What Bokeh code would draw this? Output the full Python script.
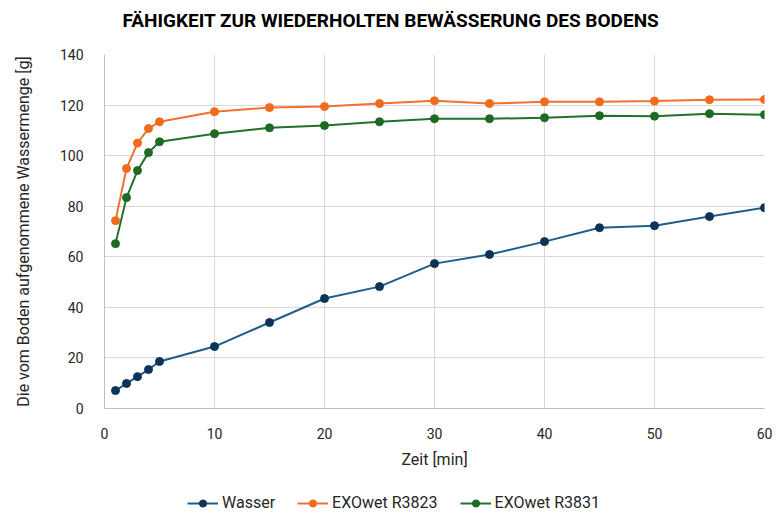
from bokeh.plotting import figure
from bokeh.models import Range1d, Legend, LegendItem, FixedTicker, Label
from bokeh.layouts import column
from bokeh.embed import file_html
from bokeh.resources import INLINE

zeit = [1, 2, 3, 4, 5, 10, 15, 20, 25, 30, 35, 40, 45, 50, 55, 60]
wasser = [7.1, 9.9, 12.6, 15.4, 18.6, 24.5, 34.0, 43.5, 48.2, 57.3, 60.9, 66.0, 71.5, 72.3, 75.9, 79.4]
r3823 = [74.3, 94.9, 105.0, 110.7, 113.4, 117.4, 119.0, 119.4, 120.6, 121.7, 120.6, 121.3, 121.3, 121.6, 122.1, 122.2]
r3831 = [65.2, 83.4, 94.1, 101.2, 105.5, 108.7, 111.0, 111.9, 113.4, 114.6, 114.6, 115.0, 115.8, 115.6, 116.6, 116.2]

x_ticks = [0, 10, 20, 30, 40, 50, 60]
y_ticks = [0, 20, 40, 60, 80, 100, 120, 140]

title_text = "FÄHIGKEIT ZUR WIEDERHOLTEN BEWÄSSERUNG DES BODENS"

series = [
    ("Wasser", wasser, "#1d5f8a", "#0c3458"),
    ("EXOwet R3823", r3823, "#f07130", "#f26a1b"),
    ("EXOwet R3831", r3831, "#22702a", "#1d6a25"),
]

FONT = "Roboto"
TXT = "#262626"

# title strip
pt = figure(width=776, height=40, output_backend="svg", toolbar_location=None,
            x_range=Range1d(0, 1), y_range=Range1d(0, 1),
            x_axis_type=None, y_axis_type=None, min_border=0)
pt.outline_line_color = None
pt.add_layout(Label(x=0, y=0.5, x_offset=18, text=title_text,
                    text_font=FONT, text_font_style="bold", text_font_size="19px",
                    text_color="#000000", text_align="left", text_baseline="middle"))

p = figure(width=776, height=440, output_backend="svg", toolbar_location=None,
           x_range=Range1d(0, 60), y_range=Range1d(0, 140),
           min_border_left=104, min_border_right=12, min_border_top=14, min_border_bottom=72)
p.outline_line_color = None
p.background_fill_color = "white"

p.xaxis.ticker = FixedTicker(ticks=x_ticks)
p.yaxis.ticker = FixedTicker(ticks=y_ticks)
p.xaxis.axis_label = "Zeit [min]"
p.yaxis.axis_label = "Die vom Boden aufgenommene Wassermenge [g]"
for ax in (p.xaxis, p.yaxis):
    ax.axis_line_color = "#bfbfbf"
    ax.major_tick_line_color = None
    ax.minor_tick_line_color = None
    ax.major_label_text_font = FONT
    ax.major_label_text_font_size = "14px"
    ax.major_label_text_color = TXT
    ax.axis_label_text_font = FONT
    ax.axis_label_text_font_size = "16px"
    ax.axis_label_text_font_style = "normal"
    ax.axis_label_text_color = TXT
p.xaxis.major_label_standoff = 13
p.yaxis.major_label_standoff = 15
p.xaxis.axis_label_standoff = 8
p.yaxis.axis_label_standoff = 24

p.xgrid.grid_line_color = "#d9d9d9"
p.ygrid.grid_line_color = "#d9d9d9"

for name, vals, lc, mc in series:
    p.line(zeit, vals, line_color=lc, line_width=2)
    p.scatter(zeit, vals, size=8, fill_color=mc, line_color=mc)

# legend strip below the chart; its renderers use the same data, kept outside
# the strip's visible range so only the legend samples show
pl = figure(width=776, height=37, output_backend="svg", toolbar_location=None,
            x_range=Range1d(0, 1), y_range=Range1d(-2, -1),
            x_axis_type=None, y_axis_type=None, min_border=0)
pl.outline_line_color = None
items = []
for name, vals, lc, mc in series:
    l = pl.line(zeit, vals, line_color=lc, line_width=2)
    s = pl.scatter(zeit, vals, size=8, fill_color=mc, line_color=mc)
    items.append(LegendItem(label=name, renderers=[l, s]))

legend = Legend(items=items, orientation="horizontal", location=(83, 5))
legend.label_text_font = FONT
legend.label_text_font_size = "16px"
legend.label_text_color = TXT
legend.glyph_width = 31
legend.glyph_height = 18
legend.label_height = 18
legend.label_standoff = 4
legend.spacing = 22
legend.padding = 0
legend.margin = 0
legend.border_line_color = None
legend.background_fill_alpha = 0
pl.add_layout(legend, "center")

layout = column(pt, p, pl, spacing=0)
open("out.html", "w").write(file_html(layout, INLINE))
